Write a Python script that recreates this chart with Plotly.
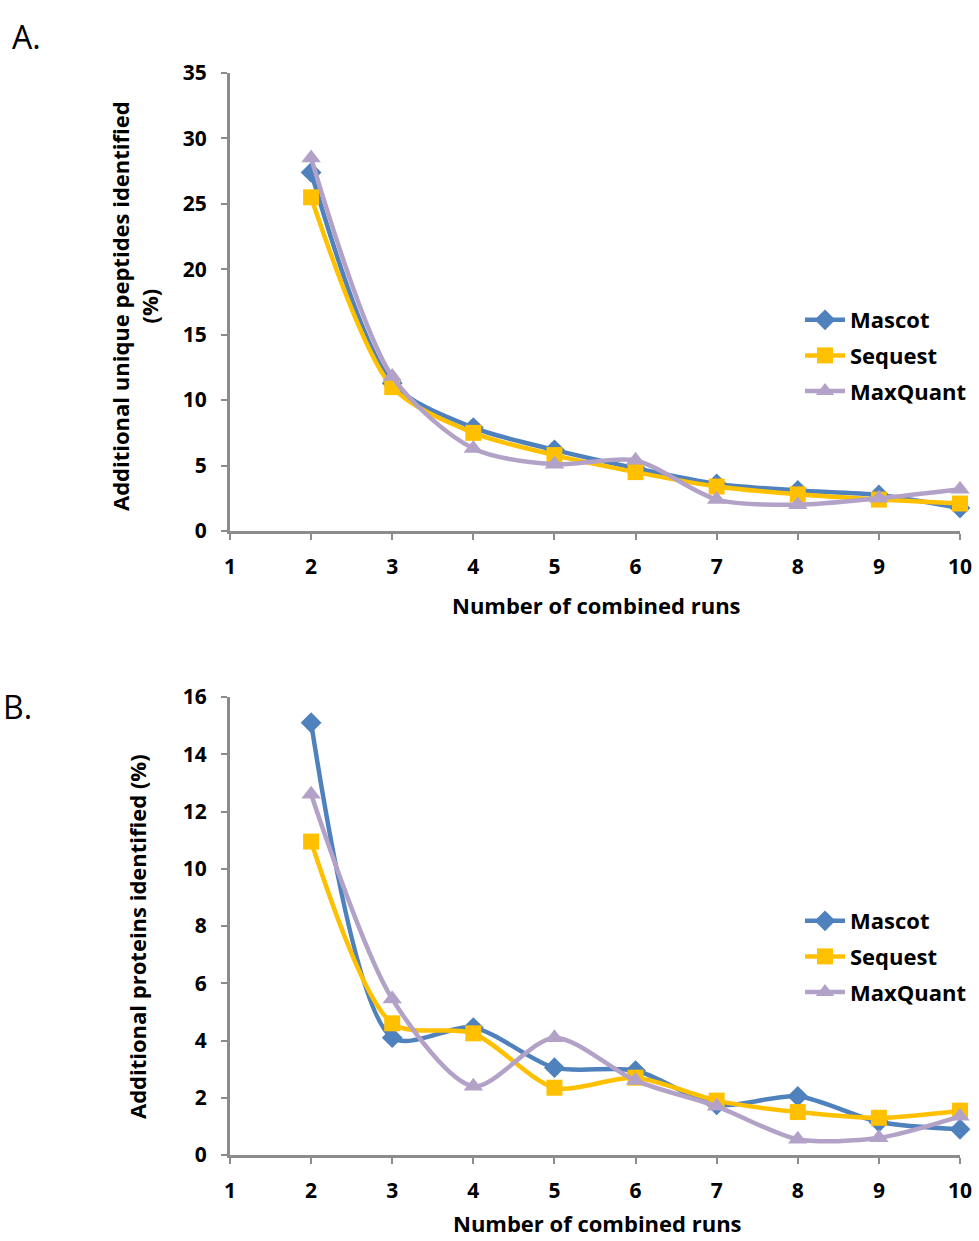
import plotly.graph_objects as go

runs = [2, 3, 4, 5, 6, 7, 8, 9, 10]
x_ticks = [1, 2, 3, 4, 5, 6, 7, 8, 9, 10]

pep_mascot = [27.4, 11.3, 7.9, 6.2, 4.8, 3.6, 3.1, 2.75, 1.75]
pep_sequest = [25.5, 11.0, 7.5, 5.8, 4.5, 3.4, 2.8, 2.4, 2.1]
pep_maxquant = [28.5, 11.8, 6.3, 5.1, 5.4, 2.4, 2.0, 2.5, 3.2]

prot_mascot = [15.1, 4.1, 4.45, 3.05, 2.95, 1.75, 2.05, 1.15, 0.9]
prot_sequest = [10.95, 4.6, 4.25, 2.35, 2.7, 1.9, 1.5, 1.3, 1.55]
prot_maxquant = [12.6, 5.45, 2.4, 4.1, 2.6, 1.7, 0.55, 0.6, 1.35]

names = ["Mascot", "Sequest", "MaxQuant"]
colors = ["#4F81BD", "#FFC000", "#B3A2C7"]
symbols = ["diamond", "square", "triangle-up"]
msizes = [16, 16, 17]

W, H = 979, 1241
def px(x):
    return x / W
def py(y):
    return 1 - y / H

FONT = "Open Sans"
fig = go.Figure()

for i, (name, vals) in enumerate(zip(names, [pep_mascot, pep_sequest, pep_maxquant])):
    fig.add_trace(go.Scatter(
        x=runs, y=vals, name=name, mode="lines+markers", legendgroup="a" + name,
        line=dict(color=colors[i], width=4.5, shape="spline", smoothing=0.8),
        marker=dict(symbol=symbols[i], size=msizes[i], color=colors[i]),
        xaxis="x", yaxis="y", legend="legend", cliponaxis=False))

for i, (name, vals) in enumerate(zip(names, [prot_mascot, prot_sequest, prot_maxquant])):
    fig.add_trace(go.Scatter(
        x=runs, y=vals, name=name, mode="lines+markers", legendgroup="b" + name,
        line=dict(color=colors[i], width=4.5, shape="spline", smoothing=0.8),
        marker=dict(symbol=symbols[i], size=msizes[i], color=colors[i]),
        xaxis="x2", yaxis="y2", legend="legend2", cliponaxis=False))

axis_common = dict(
    showline=True, linecolor="#8C8C8C", linewidth=3,
    ticks="outside", tickcolor="#8C8C8C", tickwidth=2, ticklen=6,
    showgrid=False, zeroline=False,
    tickfont=dict(family=FONT, size=21, color="black", weight="bold"),
)

xd = [px(230), px(960)]
lfont = dict(family=FONT, size=22, color="black", weight="bold")
fig.update_layout(
    width=W, height=H, margin=dict(l=0, r=0, t=0, b=0, autoexpand=False),
    paper_bgcolor="white", plot_bgcolor="white",
    xaxis=dict(domain=xd, range=[1, 10], tickvals=x_ticks, anchor="y",
               ticklabelstandoff=9, **axis_common),
    yaxis=dict(domain=[py(531), py(73)], range=[0, 35], dtick=5, anchor="x",
               ticklabelstandoff=10, **axis_common),
    xaxis2=dict(domain=xd, range=[1, 10], tickvals=x_ticks, anchor="y2",
                ticklabelstandoff=9, **axis_common),
    yaxis2=dict(domain=[py(1155), py(697)], range=[0, 16], dtick=2, anchor="x2",
                ticklabelstandoff=10, **axis_common),
    legend=dict(x=px(800), y=py(299), xanchor="left", yanchor="top",
                font=lfont, tracegroupgap=4, itemwidth=40, bgcolor="rgba(0,0,0,0)"),
    legend2=dict(x=px(800), y=py(900), xanchor="left", yanchor="top",
                 font=lfont, tracegroupgap=4, itemwidth=40, bgcolor="rgba(0,0,0,0)"),
    showlegend=True,
)

tf = dict(family=FONT, size=22, color="black", weight="bold")
anns = [
    dict(text="A.", x=px(10), y=py(36), xanchor="left", yanchor="middle",
         font=dict(family=FONT, size=32, color="black")),
    dict(text="B.", x=px(1), y=py(707), xanchor="left", yanchor="middle",
         font=dict(family=FONT, size=32, color="black")),
    dict(text="Number of combined runs", x=px(596), y=py(605), xanchor="center",
         yanchor="middle", font=tf),
    dict(text="Number of combined runs", x=px(597), y=py(1223), xanchor="center",
         yanchor="middle", font=tf),
    dict(text="Additional unique peptides identified<br>(%)", x=px(134), y=py(306),
         xanchor="center", yanchor="middle", textangle=-90, font=tf),
    dict(text="Additional proteins identified (%)", x=px(137), y=py(937),
         xanchor="center", yanchor="middle", textangle=-90, font=tf),
]
for a in anns:
    a.update(xref="paper", yref="paper", showarrow=False)
fig.update_layout(annotations=anns)

fig.write_html("out.html", config={"displayModeBar": False},
               post_script="document.body.style.margin='0';document.body.style.overflow='hidden';")
